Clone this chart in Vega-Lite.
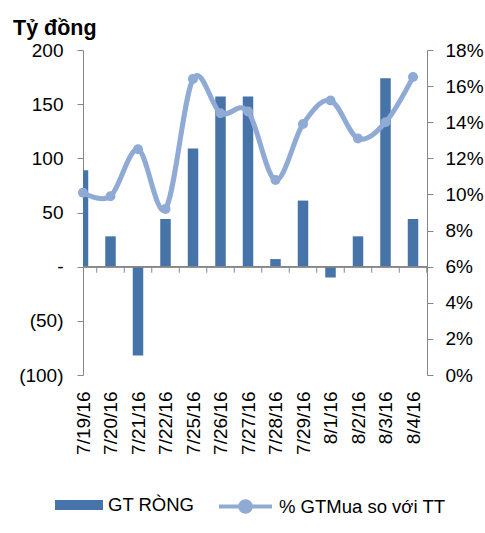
{
  "$schema": "https://vega.github.io/schema/vega-lite/v6.json",
  "width": 344,
  "height": 325,
  "autosize": "none",
  "padding": {"left": 83, "top": 50, "right": 58, "bottom": 158},
  "title": {"text": "Tỷ đồng", "anchor": "start", "frame": "group", "dx": -70, "dy": 19, "font": "Liberation Sans", "fontSize": 21.5, "fontWeight": "bold", "color": "#000000", "baseline": "alphabetic", "offset": 4},
  "config": {"view": {"stroke": null}, "axis": {"labelFont": "Liberation Sans", "labelFontSize": 19, "labelColor": "#000000", "domainColor": "#868686", "tickColor": "#868686", "grid": false, "title": null, "labelOverlap": false, "labelBound": false, "labelFlush": false}},
  "data": {"values": [
    {"date": "7/19/16", "gt": 89, "pct": 0.101},
    {"date": "7/20/16", "gt": 28, "pct": 0.099},
    {"date": "7/21/16", "gt": -82, "pct": 0.125},
    {"date": "7/22/16", "gt": 44, "pct": 0.092},
    {"date": "7/25/16", "gt": 109, "pct": 0.164},
    {"date": "7/26/16", "gt": 157, "pct": 0.145},
    {"date": "7/27/16", "gt": 157, "pct": 0.146},
    {"date": "7/28/16", "gt": 7, "pct": 0.108},
    {"date": "7/29/16", "gt": 61, "pct": 0.139},
    {"date": "8/1/16", "gt": -10, "pct": 0.152},
    {"date": "8/2/16", "gt": 28, "pct": 0.131},
    {"date": "8/3/16", "gt": 174, "pct": 0.140},
    {"date": "8/4/16", "gt": 44, "pct": 0.165}
  ]},
  "layer": [
    {
      "layer": [
        {
          "mark": {"type": "bar", "size": 10.5, "clip": true},
          "encoding": {
            "x": {"field": "date", "type": "ordinal", "sort": null, "scale": {"type": "point", "padding": 0, "range": [0, 330]}, "axis": {"orient": "bottom", "labelAngle": -90, "domain": false, "ticks": false, "labelPadding": 16}},
            "y": {"field": "gt", "type": "quantitative", "scale": {"domain": [-100, 200], "nice": false, "zero": false}, "axis": {"orient": "left", "values": [-100, -50, 0, 50, 100, 150, 200], "labelExpr": "datum.value == 0 ? '-\u00a0\u00a0\u00a0' : (datum.value < 0 ? '(' + format(-datum.value, 'd') + ')' : format(datum.value, 'd') + '\u00a0')", "tickSize": 6, "labelPadding": 14, "labelOverlap": false}},
            "color": {"datum": "GT RÒNG", "scale": {"range": ["#4673A8"]}, "legend": {"orient": "none", "legendX": -28, "legendY": 431, "title": null, "symbolType": "M-1,-0.21H1V0.21H-1Z", "symbolSize": 2304, "symbolStrokeWidth": 0, "labelFont": "Liberation Sans", "labelFontSize": 18.5, "labelColor": "#000000", "labelOffset": 5, "labelLimit": 300}}
          }
        },
        {
          "mark": {"type": "rule", "color": "#868686", "strokeWidth": 1},
          "encoding": {"y": {"datum": 0}}
        },
        {
          "mark": {"type": "tick", "orient": "vertical", "size": 6, "thickness": 1, "color": "#868686", "opacity": 1, "xOffset": 13.75, "yOffset": 3},
          "encoding": {
            "x": {"field": "date", "type": "ordinal", "sort": null},
            "y": {"datum": 0}
          }
        }
      ]
    },
    {
      "layer": [
        {
          "mark": {"type": "line", "interpolate": "cardinal", "strokeWidth": 5},
          "encoding": {
            "x": {"field": "date", "type": "ordinal", "sort": null},
            "y": {"field": "pct", "type": "quantitative", "scale": {"domain": [0, 0.18], "nice": false}, "axis": {"orient": "right", "values": [0, 0.02, 0.04, 0.06, 0.08, 0.1, 0.12, 0.14, 0.16, 0.18], "labelExpr": "format(datum.value, '.0%')", "tickSize": 6, "labelPadding": 12, "labelOverlap": false, "labelSeparation": 0}},
            "stroke": {"datum": "% GTMua so với TT", "scale": {"range": ["#8FAAD5"]}, "legend": {"orient": "none", "legendX": 134, "legendY": 428, "title": null, "symbolType": "M-1,0H1M0.2,0A0.2,0.2,0,1,1,-0.2,0A0.2,0.2,0,1,1,0.2,0Z", "symbolSize": 2809, "symbolStrokeWidth": 4, "symbolFillColor": "#8FAAD5", "labelFont": "Liberation Sans", "labelFontSize": 18.5, "labelColor": "#000000", "labelOffset": 5, "labelLimit": 300}}
          }
        },
        {
          "mark": {"type": "circle", "size": 100, "opacity": 1, "color": "#8FAAD5"},
          "encoding": {
            "x": {"field": "date", "type": "ordinal", "sort": null},
            "y": {"field": "pct", "type": "quantitative", "axis": {"orient": "right", "values": [0, 0.02, 0.04, 0.06, 0.08, 0.1, 0.12, 0.14, 0.16, 0.18], "labelExpr": "format(datum.value, '.0%')", "tickSize": 6, "labelPadding": 12, "labelOverlap": false, "labelSeparation": 0}}
          }
        }
      ]
    }
  ],
  "resolve": {"scale": {"y": "independent"}}
}
